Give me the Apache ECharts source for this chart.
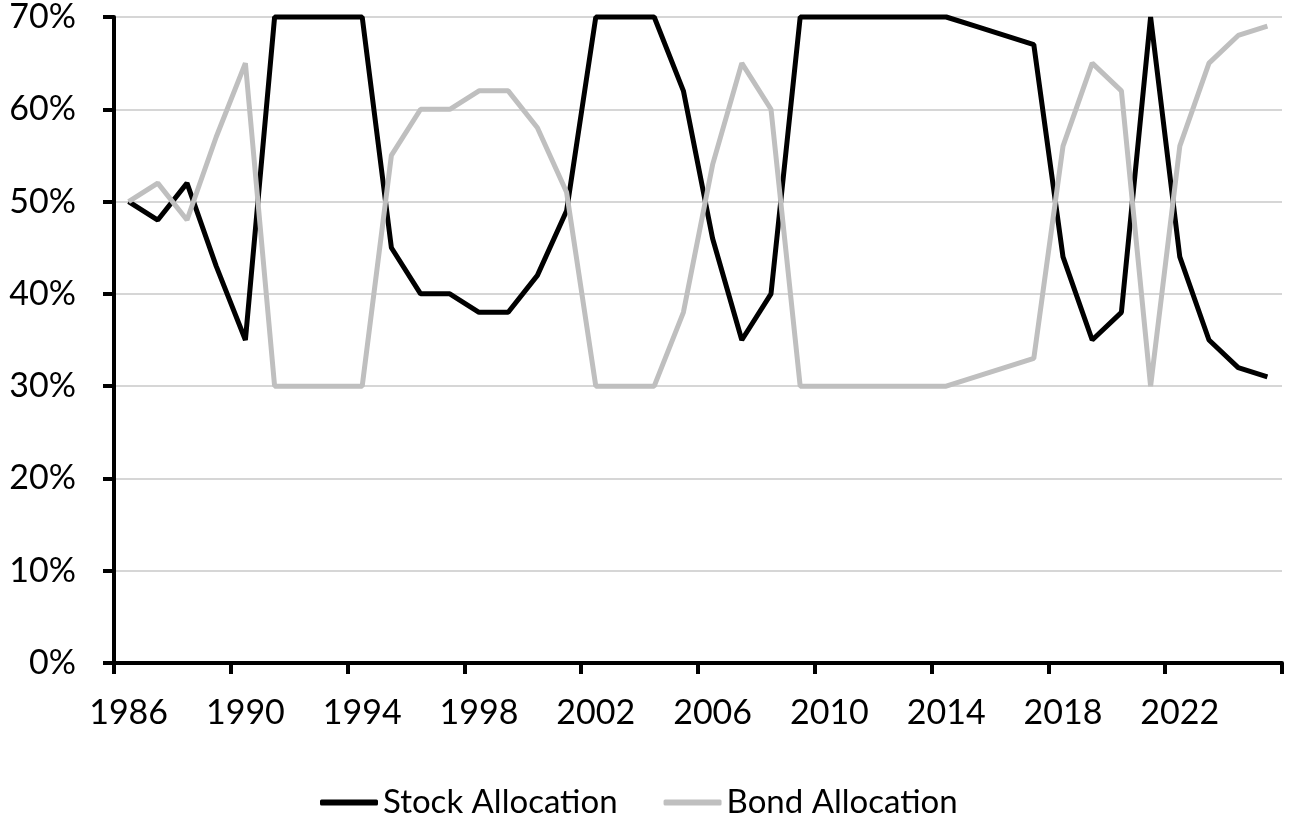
<!DOCTYPE html>
<html>
<head>
<meta charset="utf-8">
<title>Stock / Bond Allocation</title>
<script src="https://cdn.jsdelivr.net/npm/echarts@6/dist/echarts.min.js"></script>
<style>
  html, body { margin: 0; padding: 0; background: #fff; }
  #chart { width: 1290px; height: 816px; }
</style>
</head>
<body>
<div id="chart"></div>
<script>
/**************** data ****************/
var years = [];
for (var y = 1986; y <= 2025; y++) { years.push(String(y)); }

var stockAllocation = [
  50, 48, 52, 43, 35, 70, 70, 70, 70, 45,
  40, 40, 38, 38, 42, 49, 70, 70, 70, 62,
  46, 35, 40, 70, 70, 70, 70, 70, 70, 69,
  68, 67, 44, 35, 38, 70, 44, 35, 32, 31
];

var bondAllocation = [
  50, 52, 48, 57, 65, 30, 30, 30, 30, 55,
  60, 60, 62, 62, 58, 51, 30, 30, 30, 38,
  54, 65, 60, 30, 30, 30, 30, 30, 30, 31,
  32, 33, 56, 65, 62, 30, 56, 65, 68, 69
];

var yTicks = [0, 10, 20, 30, 40, 50, 60, 70];

/**************** chart ****************/
var fontName = 'Lato';
var myChart = echarts.init(document.getElementById('chart'));

var option = {
  backgroundColor: '#ffffff',
  animation: false,
  textStyle: { fontFamily: fontName, color: '#000' },
  grid: {
    left: 114,
    right: 8,
    top: 17,
    bottom: 153,
    containLabel: false
  },
  legend: {
    left: 315,
    top: 781,
    icon: 'roundRect',
    itemWidth: 58,
    itemHeight: 6,
    itemGap: 46,
    textStyle: { fontFamily: fontName, fontSize: 33, color: '#000' },
    data: ['Stock Allocation', 'Bond Allocation']
  },
  xAxis: {
    type: 'category',
    data: years,
    boundaryGap: true,
    axisLine: { lineStyle: { color: '#000', width: 4 } },
    axisTick: { show: true, interval: 3, length: 11, lineStyle: { color: '#000', width: 4 } },
    axisLabel: {
      interval: 3,
      margin: 33,
      fontSize: 34,
      fontFamily: fontName,
      color: '#000'
    },
    splitLine: { show: false }
  },
  yAxis: {
    type: 'value',
    min: yTicks[0],
    max: yTicks[yTicks.length - 1],
    interval: 10,
    axisLine: { show: true, lineStyle: { color: '#000', width: 4 } },
    axisTick: { show: true, length: 11, lineStyle: { color: '#000', width: 4 } },
    axisLabel: {
      margin: 38,
      fontSize: 34,
      fontFamily: fontName,
      color: '#000',
      formatter: '{value}%'
    },
    splitLine: { show: true, lineStyle: { color: '#c8c8c8', width: 1.5 } }
  },
  series: [
    {
      name: 'Stock Allocation',
      type: 'line',
      data: stockAllocation,
      showSymbol: false,
      symbol: 'none',
      clip: false,
      color: '#000000',
      lineStyle: { color: '#000000', width: 5 }
    },
    {
      name: 'Bond Allocation',
      type: 'line',
      data: bondAllocation,
      showSymbol: false,
      symbol: 'none',
      clip: false,
      color: '#bfbfbf',
      lineStyle: { color: '#bfbfbf', width: 5 }
    }
  ]
};

myChart.setOption(option);
</script>
</body>
</html>
